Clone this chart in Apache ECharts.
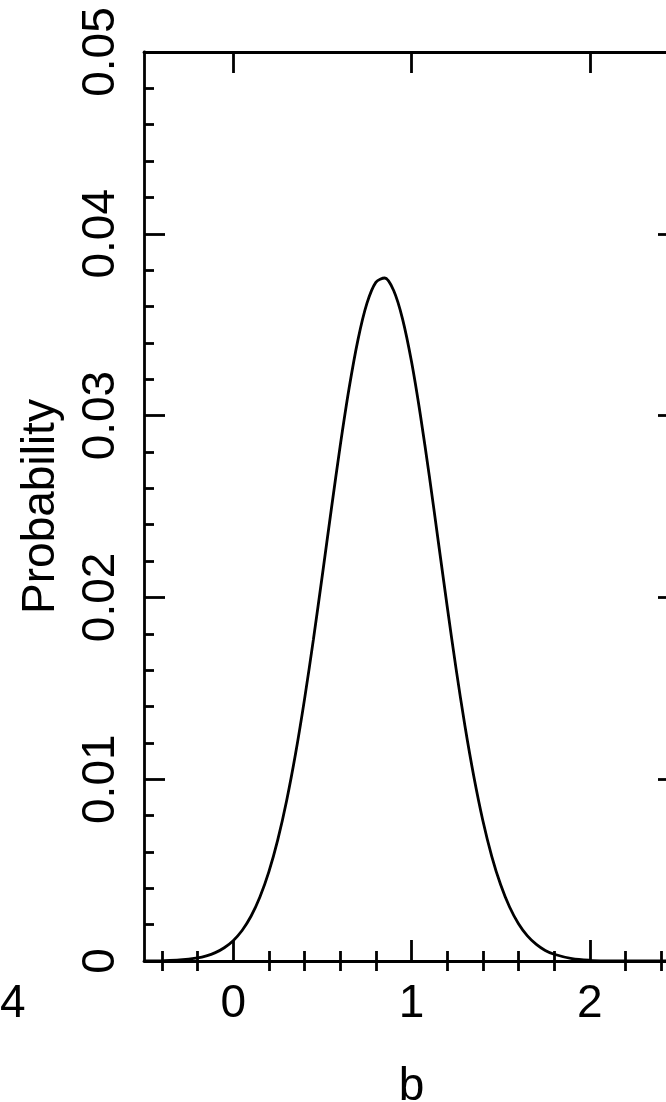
<!DOCTYPE html>
<html>
<head>
<meta charset="utf-8">
<title>Probability of b</title>
<script src="https://cdn.jsdelivr.net/npm/echarts@6/dist/echarts.min.js"></script>
<style>
  html, body { margin: 0; padding: 0; background: #fff; overflow: hidden; }
  #chart { width: 700px; height: 1102px; }
</style>
</head>
<body>
<div id="chart"></div>
<script>
// Posterior probability of the parameter b
const bValues = [
  -0.5, -0.4, -0.3, -0.2, -0.15, -0.1, -0.05, 0, 0.05, 0.1, 0.15, 0.2, 0.25,
  0.3, 0.35, 0.4, 0.45, 0.5, 0.55, 0.6, 0.65, 0.7, 0.75, 0.8, 0.85, 0.9,
  0.95, 1.0, 1.05, 1.1, 1.15, 1.2, 1.25, 1.3, 1.35, 1.4, 1.45, 1.5, 1.55,
  1.6, 1.65, 1.7, 1.75, 1.8, 1.9, 2.0, 2.1, 2.2, 2.3, 2.4, 2.5
];
const probValues = [
  0.00000, 0.00002, 0.00006, 0.00017, 0.00028, 0.00046, 0.00073, 0.00112,
  0.00168, 0.00246, 0.00352, 0.00490, 0.00666, 0.00883, 0.01141, 0.01439,
  0.01769, 0.02122, 0.02482, 0.02832, 0.03150, 0.03418, 0.03617, 0.03733,
  0.03757, 0.03688, 0.03531, 0.03297, 0.03002, 0.02667, 0.02309, 0.01951,
  0.01607, 0.01291, 0.01012, 0.00773, 0.00576, 0.00419, 0.00297, 0.00205,
  0.00138, 0.00091, 0.00058, 0.00037, 0.00013, 0.00004, 0.00001, 0.00000,
  0.00000, 0.00000, 0.00000
];

// Axis ticks
const xMajorTicks = [0, 1, 2];
const xMinorTicks = [-0.4, -0.2, 0.2, 0.4, 0.6, 0.8, 1.2, 1.4, 1.6, 1.8, 2.2, 2.4];
const yTickLabels = ['0', '0.01', '0.02', '0.03', '0.04', '0.05'];
const yStep = 0.01;

const FONT = '"Liberation Sans", Arial, sans-serif';
const INK = '#000';
const LW = 2.8;

const chart = echarts.init(document.getElementById('chart'), null, { renderer: 'canvas' });

const xRange = { min: -0.5, max: 2.5 };
const baseX = {
  type: 'value',
  min: xRange.min,
  max: xRange.max,
  splitLine: { show: false },
  axisLine: { show: true, onZero: false, lineStyle: { color: INK, width: LW } },
  axisLabel: { show: false },
  axisTick: { show: false }
};

function majorX(position, withLabels) {
  return Object.assign({}, baseX, {
    position: position,
    name: withLabels ? 'b' : '',
    nameLocation: 'middle',
    nameGap: 103,
    nameTextStyle: { color: INK, fontFamily: FONT, fontSize: 46 },
    axisTick: {
      show: true, inside: true, length: 21, customValues: xMajorTicks,
      lineStyle: { color: INK, width: LW }
    },
    axisLabel: {
      show: withLabels, customValues: xMajorTicks, margin: 20,
      color: INK, fontFamily: FONT, fontSize: 46
    }
  });
}
function minorX(position) {
  return Object.assign({}, baseX, {
    position: position,
    axisLine: { show: false },
    axisTick: {
      show: true, inside: true, length: 10, customValues: xMinorTicks,
      lineStyle: { color: INK, width: LW }
    }
  });
}

function yAxisAt(position, withLabels) {
  return {
    type: 'value',
    position: position,
    min: 0,
    max: 0.05,
    interval: yStep,
    name: withLabels ? 'Probability' : '',
    nameLocation: 'middle',
    nameRotate: 90,
    nameGap: 80,
    nameTextStyle: { color: INK, fontFamily: FONT, fontSize: 46 },
    splitLine: { show: false },
    axisLine: { show: true, onZero: false, lineStyle: { color: INK, width: LW } },
    axisTick: { show: true, inside: true, length: 21, lineStyle: { color: INK, width: LW } },
    minorTick: { show: true, splitNumber: 5, length: 10, lineStyle: { color: INK, width: LW } },
    axisLabel: {
      show: withLabels,
      rotate: 90,
      margin: 20,
      color: INK,
      fontFamily: FONT,
      fontSize: 46,
      formatter: function (v) { return yTickLabels[Math.round(v / yStep)]; }
    }
  };
}

chart.setOption({
  backgroundColor: '#fff',
  animation: false,
  grid: {
    left: 144, right: 21, top: 52, bottom: 141,
    containLabel: false,
    outerBoundsMode: 'none'
  },
  xAxis: [majorX('bottom', true), minorX('bottom'), majorX('top', false), minorX('top')],
  yAxis: [yAxisAt('left', true), yAxisAt('right', false)],
  graphic: [{
    type: 'text',
    left: 0,
    top: 981,
    style: { text: '4', fill: INK, font: '46px ' + FONT }
  }],
  series: [{
    type: 'line',
    xAxisIndex: 0,
    yAxisIndex: 0,
    data: bValues.map((b, i) => [b, probValues[i]]),
    smooth: 0.3,
    showSymbol: false,
    clip: true,
    lineStyle: { color: INK, width: LW }
  }]
});
</script>
</body>
</html>
